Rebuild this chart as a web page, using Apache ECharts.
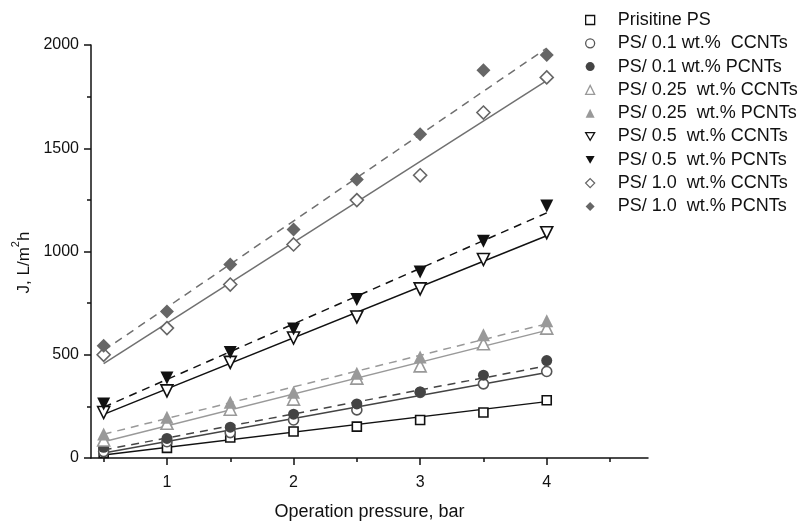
<!DOCTYPE html>
<html>
<head>
<meta charset="utf-8">
<script src="https://cdn.jsdelivr.net/npm/echarts@6/dist/echarts.min.js"></script>
<style>html,body{margin:0;padding:0;background:#fff;}#c{width:809px;height:523px;}</style>
</head>
<body>
<div id="c"></div>
<script>
var pressure = [0.5, 1, 1.5, 2, 2.5, 3, 3.5, 4];
var seriesNames = [
  'Prisitine PS',
  'PS/ 0.1 wt.%  CCNTs',
  'PS/ 0.1 wt.% PCNTs',
  'PS/ 0.25  wt.% CCNTs',
  'PS/ 0.25  wt.% PCNTs',
  'PS/ 0.5  wt.% CCNTs',
  'PS/ 0.5  wt.% PCNTs',
  'PS/ 1.0  wt.% CCNTs',
  'PS/ 1.0  wt.% PCNTs'
];
var pristine = [24, 49, 99, 128, 152, 184, 220, 280];
var c01 = [31, 79, 123, 184, 233, 318, 359, 419];
var p01 = [52, 95, 149, 212, 262, 320, 401, 472];
var c025 = [87, 168, 236, 285, 387, 446, 553, 629];
var p025 = [116, 197, 270, 319, 411, 489, 597, 665];
var c05 = [220, 325, 463, 581, 683, 819, 961, 1091];
var p05 = [262, 387, 511, 625, 767, 901, 1050, 1220];
var c10 = [500, 629, 840, 1034, 1249, 1369, 1673, 1843];
var p10 = [544, 710, 937, 1107, 1349, 1568, 1878, 1951];
// fitted line values at x = 0.5 and x = 4
var fitX = [0.5, 4];
var fitPristine = [15, 273];
var fitC01 = [24, 414];
var fitP01 = [39, 446];
var fitC025 = [79, 618];
var fitP025 = [115, 650];
var fitC05 = [211, 1076];
var fitP05 = [246, 1187];
var fitC10 = [457, 1827];
var fitP10 = [520, 1985];
var xTicks = [1, 2, 3, 4];
var xMinorTicks = [0.5, 1.5, 2.5, 3.5, 4.5];

var allData = [pristine, c01, p01, c025, p025, c05, p05, c10, p10];
var allFits = [fitPristine, fitC01, fitP01, fitC025, fitP025, fitC05, fitP05, fitC10, fitP10];

var inv = 'path://M0,0L20,0L10,17Z';
var styles = [
  {sym: 'rect', size: 9, fill: '#fff', stroke: '#111', line: '#111', dash: 'solid'},
  {sym: 'circle', size: 10, fill: '#fff', stroke: '#555', line: '#444', dash: 'solid'},
  {sym: 'circle', size: 11, fill: '#444', stroke: '#444', line: '#444', dash: [8, 6]},
  {sym: 'triangle', size: 12, fill: '#fff', stroke: '#999', line: '#999', dash: 'solid'},
  {sym: 'triangle', size: 13, fill: '#999', stroke: '#999', line: '#999', dash: [8, 6]},
  {sym: inv, size: 12, fill: '#fff', stroke: '#111', line: '#111', dash: 'solid'},
  {sym: inv, size: 13, fill: '#111', stroke: '#111', line: '#111', dash: [8, 6]},
  {sym: 'diamond', size: 13, fill: '#fff', stroke: '#666', line: '#707070', dash: 'solid'},
  {sym: 'diamond', size: 14, fill: '#666', stroke: '#666', line: '#707070', dash: [8, 6]}
];

var series = [];
allFits.forEach(function (f, i) {
  var s = styles[i];
  series.push({
    name: 'fit' + i, type: 'line', silent: true, showSymbol: false, symbol: 'none',
    data: fitX.map(function (x, k) { return [x, f[k]]; }),
    lineStyle: {color: s.line, width: 1.5, type: s.dash},
    z: 2, animation: false
  });
});
allData.forEach(function (d, i) {
  var s = styles[i];
  series.push({
    name: seriesNames[i], type: 'scatter', symbol: s.sym, symbolSize: s.size,
    data: pressure.map(function (x, k) { return [x, d[k]]; }),
    itemStyle: {color: s.fill, borderColor: s.stroke, borderWidth: s.fill === '#fff' ? 1.6 : 0, opacity: 1},
    z: 3, animation: false
  });
});

var font = 'Liberation Sans, Arial, sans-serif';
var chart = echarts.init(document.getElementById('c'), null, {renderer: 'canvas'});
chart.setOption({
  backgroundColor: '#fff',
  animation: false,
  grid: {left: 91, right: 161, top: 45, bottom: 65, containLabel: false, outerBoundsMode: 'none'},
  legend: {
    orient: 'vertical', left: 580, top: 6,
    itemWidth: 9, itemHeight: 9, itemGap: 5.3,
    data: seriesNames.map(function (n, i) {
      return {name: n, icon: styles[i].sym, itemStyle: {borderWidth: styles[i].fill === '#fff' ? 1.3 : 0}};
    }),
    textStyle: {fontFamily: font, fontSize: 18, color: '#111', lineHeight: 18, padding: [0, 0, 0, 18]},
    selectedMode: false
  },
  xAxis: [{
    type: 'value', min: 0.4, max: 4.8,
    name: 'Operation pressure, bar', nameLocation: 'middle', nameGap: 45,
    nameTextStyle: {fontFamily: font, fontSize: 18, color: '#111'},
    axisLine: {onZero: false, lineStyle: {color: '#111', width: 1.5}},
    axisTick: {show: true, length: 7, inside: false, customValues: xTicks, lineStyle: {color: '#111', width: 1.5}},
    axisLabel: {customValues: xTicks, fontFamily: font, fontSize: 16, color: '#111', margin: 17},
    splitLine: {show: false}
  }, {
    type: 'value', min: 0.4, max: 4.8, position: 'bottom',
    axisLine: {show: false, onZero: false},
    axisTick: {show: true, length: 4, customValues: xMinorTicks, lineStyle: {color: '#111', width: 1.5}},
    axisLabel: {show: false},
    splitLine: {show: false}
  }],
  yAxis: {
    type: 'value', min: 0, max: 2000, interval: 500,
    name: '{a|J, L/m}{s|2}{a|h}', nameLocation: 'middle', nameGap: 58,
    nameTextStyle: {
      fontFamily: font, color: '#111', padding: [0, 22, 0, 0],
      rich: {
        a: {fontFamily: font, fontSize: 17, color: '#111', lineHeight: 22, verticalAlign: 'bottom'},
        s: {fontFamily: font, fontSize: 11, color: '#111', lineHeight: 22, verticalAlign: 'top'}
      }
    },
    axisLine: {show: true, lineStyle: {color: '#111', width: 1.5}},
    axisTick: {show: true, length: 7, lineStyle: {color: '#111', width: 1.5}},
    minorTick: {show: true, splitNumber: 2, length: 4, lineStyle: {color: '#111', width: 1.5}},
    axisLabel: {fontFamily: font, fontSize: 16, color: '#111', margin: 12, formatter: function (v) { return String(v); }},
    splitLine: {show: false}
  },
  series: series
});
</script>
</body>
</html>
